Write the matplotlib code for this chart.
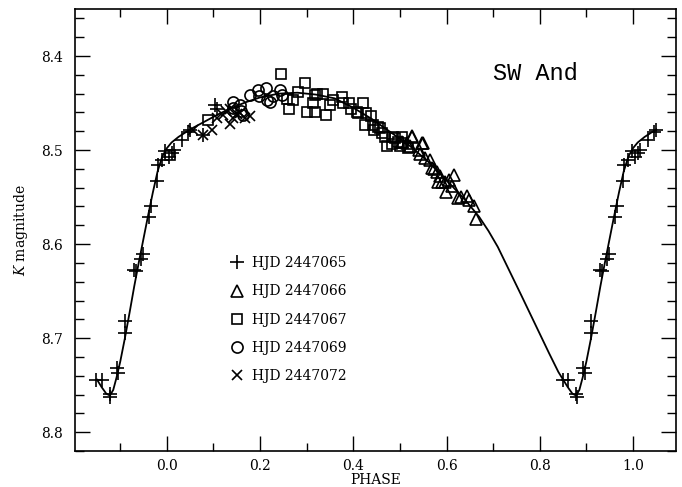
import matplotlib
matplotlib.use("Agg")
import matplotlib.pyplot as plt
import numpy as np
from matplotlib.ticker import MultipleLocator, FixedLocator

plt.rcParams["mathtext.fontset"] = "dejavuserif"

# ---- data ----
plus_phase = [-0.151, -0.139, -0.122, -0.121, -0.107, -0.104, -0.090, -0.089, -0.071, -0.067,
              -0.056, -0.052, -0.039, -0.034, -0.022, -0.019, -0.010, -0.003, 0.004, 0.010,
              0.016, 0.033, 0.046, 0.049, 0.078, 0.103, 0.107]
plus_mag = [8.744, 8.744, 8.759, 8.763, 8.732, 8.737, 8.695, 8.682, 8.627, 8.629,
            8.616, 8.610, 8.571, 8.560, 8.533, 8.516, 8.511, 8.501, 8.507, 8.503,
            8.500, 8.489, 8.481, 8.479, 8.484, 8.452, 8.456]

tri_phase = [0.505, 0.516, 0.521, 0.525, 0.527, 0.540, 0.547, 0.544, 0.549, 0.554,
             0.564, 0.568, 0.573, 0.580, 0.586, 0.582, 0.590, 0.597, 0.599, 0.606,
             0.611, 0.615, 0.625, 0.632, 0.643, 0.649, 0.658, 0.663]
tri_mag = [8.491, 8.493, 8.496, 8.486, 8.485, 8.500, 8.492, 8.504, 8.493, 8.508,
           8.511, 8.519, 8.520, 8.523, 8.528, 8.534, 8.534, 8.534, 8.545, 8.532,
           8.538, 8.526, 8.551, 8.550, 8.549, 8.553, 8.560, 8.573]

sq_phase = [0.006, 0.089, 0.244, 0.257, 0.262, 0.271, 0.282, 0.296, 0.300, 0.314,
            0.318, 0.318, 0.322, 0.336, 0.341, 0.350, 0.357, 0.375, 0.378, 0.391,
            0.396, 0.407, 0.411, 0.421, 0.427, 0.425, 0.439, 0.443, 0.444, 0.453,
            0.457, 0.461, 0.468, 0.472, 0.482, 0.486, 0.489, 0.496, 0.500, 0.504,
            0.507, 0.518]
sq_mag = [8.505, 8.468, 8.419, 8.446, 8.456, 8.447, 8.438, 8.429, 8.459, 8.450,
          8.441, 8.459, 8.440, 8.440, 8.463, 8.452, 8.447, 8.444, 8.450, 8.450,
          8.456, 8.459, 8.461, 8.450, 8.461, 8.473, 8.464, 8.473, 8.479, 8.475,
          8.477, 8.482, 8.486, 8.496, 8.494, 8.486, 8.487, 8.491, 8.496, 8.486,
          8.492, 8.498]

circ_phase = [0.141, 0.142, 0.157, 0.160, 0.164, 0.178, 0.196, 0.198, 0.212, 0.214,
              0.221, 0.228, 0.242, 0.246]
circ_mag = [8.449, 8.455, 8.452, 8.458, 8.463, 8.441, 8.436, 8.443, 8.434, 8.447,
            8.449, 8.443, 8.436, 8.441]

x_phase = [0.057, 0.078, 0.096, 0.107, 0.121, 0.127, 0.135, 0.135, 0.142, 0.150,
           0.157, 0.167, 0.178]
x_mag = [8.479, 8.484, 8.479, 8.466, 8.463, 8.458, 8.472, 8.456, 8.466, 8.462,
         8.461, 8.466, 8.464]

curve_phase = [-0.150, -0.140, -0.130, -0.122, -0.115, -0.108, -0.100, -0.090, -0.080, -0.070,
               -0.060, -0.050, -0.040, -0.030, -0.020, -0.010, 0.000, 0.010, 0.025, 0.050,
               0.080, 0.110, 0.140, 0.170, 0.200, 0.240, 0.280, 0.320, 0.360, 0.400,
               0.440, 0.480, 0.520, 0.560, 0.600, 0.640, 0.670, 0.690, 0.710, 0.760,
               0.820, 0.840, 0.850]
curve_mag = [8.744, 8.752, 8.759, 8.761, 8.755, 8.742, 8.725, 8.700, 8.673, 8.645,
             8.619, 8.594, 8.569, 8.545, 8.523, 8.507, 8.498, 8.492, 8.486, 8.478,
             8.470, 8.462, 8.455, 8.449, 8.444, 8.440, 8.439, 8.441, 8.445, 8.455,
             8.467, 8.481, 8.495, 8.512, 8.532, 8.553, 8.571, 8.586, 8.603, 8.654,
             8.716, 8.736, 8.744]

labels = ["HJD 2447065", "HJD 2447066", "HJD 2447067", "HJD 2447069", "HJD 2447072"]
xticks = [0.0, 0.2, 0.4, 0.6, 0.8, 1.0]
yticks = [8.4, 8.5, 8.6, 8.7, 8.8]

# ---- figure ----
fig = plt.figure(figsize=(6.82, 4.87), dpi=100)
ax = fig.add_axes([0.110, 0.0739, 0.881, 0.9076])

serif = "DejaVu Serif"

cp = np.array(curve_phase); cm = np.array(curve_mag)
wrap = cp <= 0.06
full_p = np.concatenate([cp, cp[wrap] + 1.0])
full_m = np.concatenate([cm, cm[wrap]])
ax.plot(full_p, full_m, color="black", lw=1.3, zorder=2)

pp = np.array(plus_phase); pm = np.array(plus_mag)
pw = pp <= 0.06
kw = dict(color="black", linestyle="none", markerfacecolor="none", markeredgecolor="black",
          markeredgewidth=1.2, zorder=3)
ax.plot(np.concatenate([pp, pp[pw] + 1.0]), np.concatenate([pm, pm[pw]]),
        marker="+", markersize=10, label=labels[0], **kw)
ax.plot(tri_phase, tri_mag, marker="^", markersize=8, label=labels[1], **kw)
ax.plot(sq_phase, sq_mag, marker="s", markersize=6.5, label=labels[2], **kw)
ax.plot(circ_phase, circ_mag, marker="o", markersize=8, label=labels[3], **kw)
ax.plot(x_phase, x_mag, marker="x", markersize=7, label=labels[4], **kw)

ax.set_xlim(-0.197, 1.092)
ax.set_ylim(8.82, 8.35)

ax.xaxis.set_major_locator(FixedLocator(xticks))
ax.xaxis.set_minor_locator(MultipleLocator(0.1))
ax.yaxis.set_major_locator(FixedLocator(yticks))
ax.yaxis.set_minor_locator(MultipleLocator(0.02))
ax.set_xticklabels([f"{v:.1f}" for v in xticks], family=serif, fontsize=10)
ax.set_yticklabels([f"{v:.1f}" for v in yticks], family=serif, fontsize=10)

ax.tick_params(which="both", direction="in", top=True, right=True, width=1.0)
ax.tick_params(axis="y", which="major", length=11, pad=9)
ax.tick_params(axis="y", which="minor", length=6.5)
ax.tick_params(axis="x", which="major", length=11, pad=6)
ax.tick_params(axis="x", which="minor", length=5.5)
for s in ax.spines.values():
    s.set_linewidth(1.2)

ax.set_xlabel("PHASE", family=serif, fontsize=10, labelpad=0)
ax.set_ylabel(r"$K$ magnitude", family=serif, fontsize=10, labelpad=8)

ax.text(0.767, 0.855, "SW And", transform=ax.transAxes, family="Liberation Mono",
        fontsize=17, ha="center", va="center")

leg = ax.legend(loc="upper left", bbox_to_anchor=(0.258, 0.441), frameon=False,
                prop={"family": serif, "size": 10}, handlelength=1.0, handletextpad=0.6,
                labelspacing=1.03, borderpad=0, borderaxespad=0, numpoints=1)

fig.savefig("out.png", dpi=100)
